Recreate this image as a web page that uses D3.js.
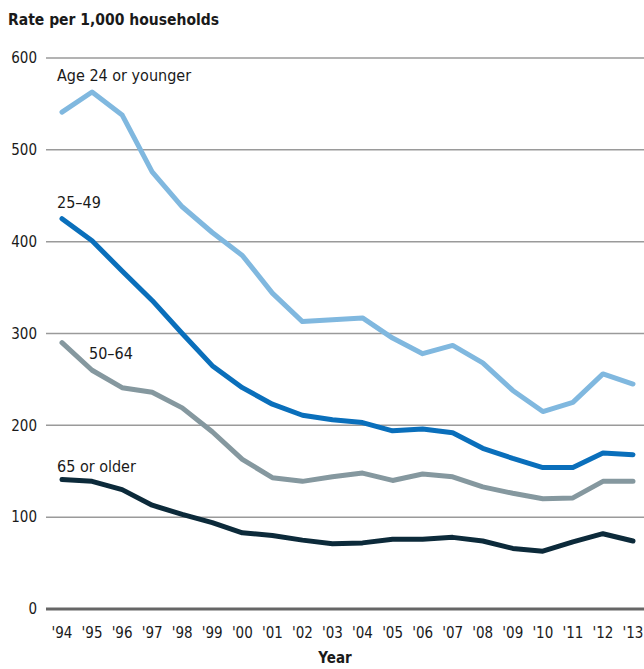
<!DOCTYPE html>
<html>
<head>
<meta charset="utf-8">
<script src="https://cdn.jsdelivr.net/npm/d3@7"></script>
<style>
  body { margin: 0; background: #fff; }
  svg text { font-family: "DejaVu Sans Condensed", "DejaVu Sans", sans-serif; font-stretch: condensed; fill: #1a1a1a; }
</style>
</head>
<body>
<div id="chart"></div>
<script>
// years and series
const years = ["'94","'95","'96","'97","'98","'99","'00","'01","'02","'03","'04","'05","'06","'07","'08","'09","'10","'11","'12","'13"];
const age24 = [541, 563, 538, 476, 438, 410, 385, 344, 313, 315, 317, 295, 278, 287, 268, 238, 215, 225, 256, 245];
const age25to49 = [425, 401, 368, 336, 300, 265, 241, 223, 211, 206, 203, 194, 196, 192, 175, 164, 154, 154, 170, 168];
const age50to64 = [290, 260, 241, 236, 219, 193, 163, 143, 139, 144, 148, 140, 147, 144, 133, 126, 120, 121, 139, 139];
const age65 = [141, 139, 130, 113, 103, 94, 83, 80, 75, 71, 72, 76, 76, 78, 74, 66, 63, 73, 82, 74];
const yTicks = [0, 100, 200, 300, 400, 500, 600];

const series = [
  { name: "Age 24 or younger", values: age24, color: "#80b8df", lx: 57, ly: 81 },
  { name: "25\u201349", values: age25to49, color: "#0a6fbb", lx: 57, ly: 208 },
  { name: "50\u201364", values: age50to64, color: "#85989f", lx: 89, ly: 359 },
  { name: "65 or older", values: age65, color: "#0c2a3a", lx: 57, ly: 472 }
];

const width = 644, height = 669;

const svg = d3.select("#chart").append("svg")
    .attr("width", width)
    .attr("height", height);

const x = d3.scalePoint()
    .domain(years)
    .range([62, 633]);

const y = d3.scaleLinear()
    .domain([0, 600])
    .range([609, 58]);

// title
svg.append("text")
    .attr("x", 8)
    .attr("y", 25)
    .style("font-size", "15.5px")
    .style("font-weight", "bold")
    .text("Rate per 1,000 households");

// gridlines, zero line heavier
svg.selectAll(".grid")
    .data(yTicks)
    .enter().append("line")
    .attr("class", "grid")
    .attr("x1", 46)
    .attr("x2", width)
    .attr("y1", d => y(d))
    .attr("y2", d => y(d))
    .style("stroke", d => d === 0 ? "#666" : "#9a9a9a")
    .style("stroke-width", d => d === 0 ? 3 : 1.5);

// y labels
svg.selectAll(".ylab")
    .data(yTicks)
    .enter().append("text")
    .attr("class", "ylab")
    .attr("x", 37)
    .attr("y", d => y(d))
    .attr("dy", "0.35em")
    .attr("text-anchor", "end")
    .style("font-size", "15px")
    .text(d => d);

// x labels
svg.selectAll(".xlab")
    .data(years)
    .enter().append("text")
    .attr("class", "xlab")
    .attr("x", d => x(d))
    .attr("y", 638)
    .attr("text-anchor", "middle")
    .style("font-size", "15px")
    .text(d => d);

svg.append("text")
    .attr("x", 335)
    .attr("y", 663)
    .attr("text-anchor", "middle")
    .style("font-size", "15px")
    .style("font-weight", "bold")
    .text("Year");

const line = d3.line()
    .x((d, i) => x(years[i]))
    .y(d => y(d));

svg.selectAll(".series")
    .data(series)
    .enter().append("path")
    .attr("class", "series")
    .attr("d", d => line(d.values))
    .style("fill", "none")
    .style("stroke", d => d.color)
    .style("stroke-width", 5)
    .style("stroke-linejoin", "round")
    .style("stroke-linecap", "round");

svg.selectAll(".slab")
    .data(series)
    .enter().append("text")
    .attr("class", "slab")
    .attr("x", d => d.lx)
    .attr("y", d => d.ly)
    .style("font-size", "16px")
    .text(d => d.name);
</script>
</body>
</html>
